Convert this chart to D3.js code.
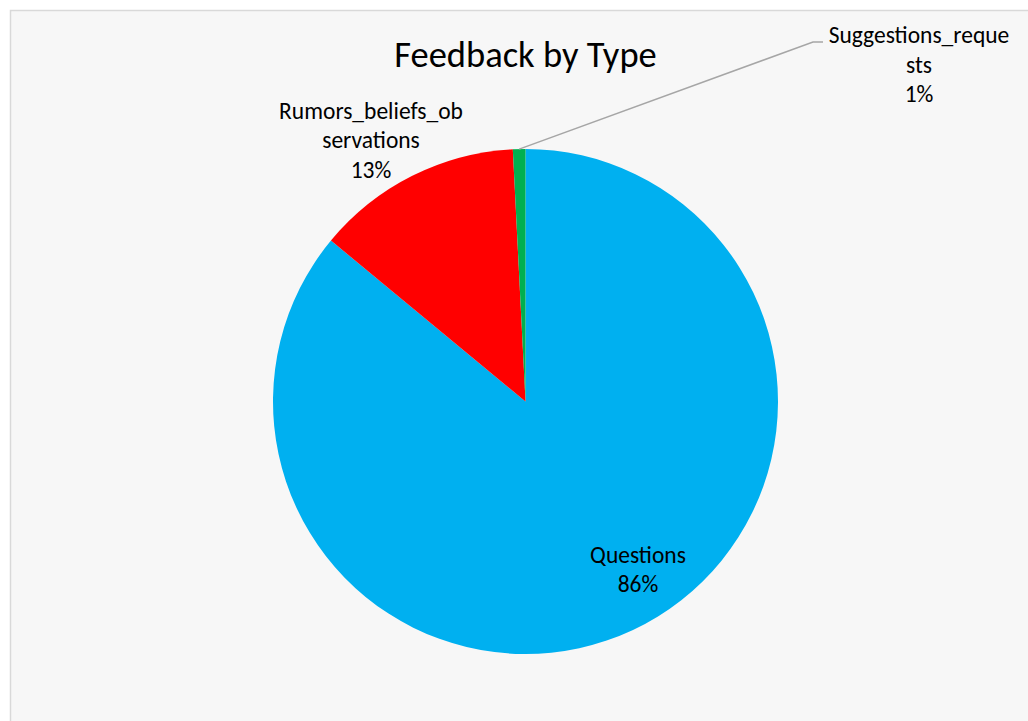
<!DOCTYPE html>
<html><head><meta charset="utf-8">
<script src="https://cdn.jsdelivr.net/npm/d3@7"></script>
<style>
html,body{margin:0;padding:0;background:#fff;}
svg{display:block;}
text{font-family:Carlito,Calibri,Lato,"Liberation Sans",sans-serif;fill:#000;}
</style></head>
<body>
<svg id="chart" width="1028" height="721"></svg>
<script>
// Data
const categories = ["Questions", "Rumors_beliefs_observations", "Suggestions_requests"];
const values = [86.0, 13.2, 0.8];
const colors = ["#00B0F0", "#FF0000", "#00B050"];
const labelNameLines = [["Questions"], ["Rumors_beliefs_ob", "servations"], ["Suggestions_reque", "sts"]];
const title = "Feedback by Type";

const W = 1028, H = 721;
const svg = d3.select("#chart");

// chart area
svg.append("rect").attr("x", 10.5).attr("y", 10.5).attr("width", W + 10).attr("height", H + 10)
  .attr("fill", "#f7f7f7").attr("stroke", "#d9d9d9").attr("stroke-width", 1.5);

svg.append("text").attr("x", 525.5).attr("y", 67).attr("text-anchor", "middle")
  .style("font-size", "36.5px").text(title);

const cx = 525.5, cy = 401.5, R = 252.5;
const g = svg.append("g").attr("transform", `translate(${cx},${cy})`);

const total = d3.sum(values);
const pie = d3.pie().sort(null).value(d => d.v);
const arcs = pie(values.map((v, i) => ({v, i})));
const arc = d3.arc().innerRadius(0).outerRadius(R);

g.selectAll("path.slice").data(arcs).join("path")
  .attr("class", "slice")
  .attr("d", arc)
  .attr("fill", d => colors[d.data.i]);

// label anchor points relative to pie center
const labelPos = [
  {dx: 112.5, dy: 161, line: false},
  {dx: -154.5, dy: -283, line: false},
  {dx: 393.5, dy: -358.5, line: true}
];
const fmt = d3.format(".0%");
const lh = 29.5;

arcs.forEach((d, k) => {
  const lp = labelPos[k];
  const lines = labelNameLines[k].concat([fmt(d.data.v / total)]);
  const t = g.append("text").attr("text-anchor", "middle").style("font-size", "23.5px");
  lines.forEach((s, j) => {
    t.append("tspan").attr("x", lp.dx).attr("y", lp.dy + j * lh).text(s);
  });
  if (lp.line) {
    const mid = (d.startAngle + d.endAngle) / 2;
    const p0 = [R * Math.sin(mid), -R * Math.cos(mid)];
    const textLeft = lp.dx - 91;
    const yLine = lp.dy - 1;
    g.append("polyline")
      .attr("points", [p0, [textLeft - 15, yLine], [textLeft - 5, yLine]].map(p => p.join(",")).join(" "))
      .attr("fill", "none").attr("stroke", "#a6a6a6").attr("stroke-width", 1.5);
  }
});
</script>
</body></html>
